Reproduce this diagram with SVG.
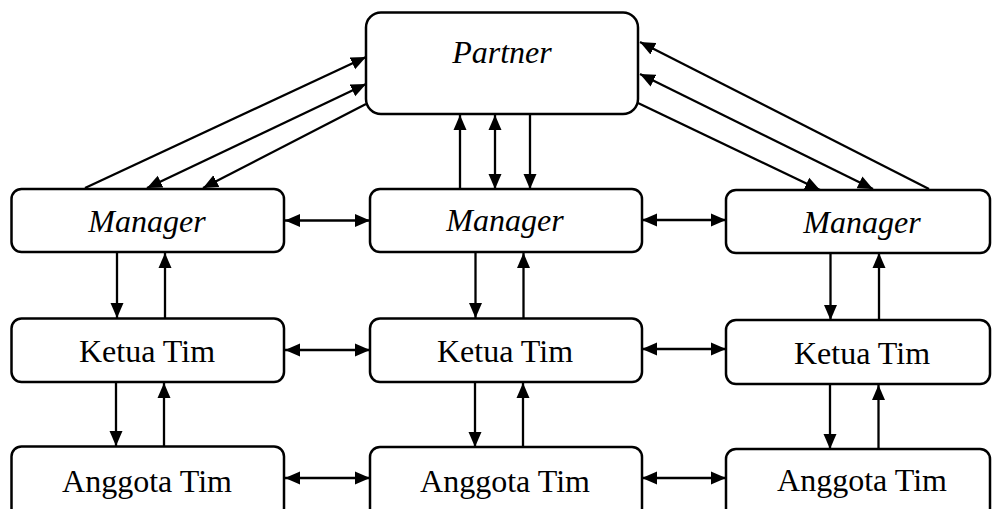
<svg xmlns="http://www.w3.org/2000/svg" width="992" height="509" viewBox="0 0 992 509">
<defs>
<style>
.box{fill:#fff;stroke:#000;stroke-width:2.5}
.lbl{font-family:"Liberation Serif","Times New Roman",serif;font-size:32px;fill:#000;text-anchor:middle}
.it{font-style:italic}
.c{stroke:#000;stroke-width:2.3;fill:none}
.e{marker-end:url(#ah)}
.b{marker-end:url(#ah);marker-start:url(#ah)}
</style>
<marker id="ah" markerUnits="userSpaceOnUse" markerWidth="16" markerHeight="14" refX="15" refY="7" orient="auto-start-reverse">
<path d="M0,0.5 L15,7 L0,13.5 z" fill="#000"/>
</marker>
</defs>
<rect width="992" height="509" fill="#fff"/>
<g id="connectors">
<line class="c e" x1="85" y1="188" x2="366" y2="57"/>
<line class="c b" x1="147" y1="188" x2="366" y2="84"/>
<line class="c e" x1="366" y1="104" x2="203" y2="188"/>
<line class="c e" x1="929" y1="189" x2="640" y2="42"/>
<line class="c b" x1="873" y1="189" x2="640" y2="74"/>
<line class="c e" x1="638" y1="103" x2="820" y2="190"/>
<line class="c e" x1="460" y1="189" x2="460" y2="115"/>
<line class="c b" x1="495" y1="115" x2="495" y2="189"/>
<line class="c e" x1="530" y1="115" x2="530" y2="189"/>
<line class="c b" x1="285" y1="220.5" x2="370" y2="220.5"/>
<line class="c b" x1="642" y1="220" x2="726" y2="220"/>
<line class="c b" x1="285" y1="350" x2="370" y2="350"/>
<line class="c b" x1="642" y1="349" x2="726" y2="349"/>
<line class="c b" x1="285" y1="478" x2="370" y2="478"/>
<line class="c b" x1="642" y1="478" x2="726" y2="478"/>
<line class="c e" x1="117" y1="253" x2="117" y2="318"/>
<line class="c e" x1="165" y1="318" x2="165" y2="253"/>
<line class="c e" x1="475.5" y1="253" x2="475.5" y2="318"/>
<line class="c e" x1="523.5" y1="318" x2="523.5" y2="253"/>
<line class="c e" x1="830.5" y1="253" x2="830.5" y2="320"/>
<line class="c e" x1="879" y1="320" x2="879" y2="253"/>
<line class="c e" x1="116" y1="383" x2="116" y2="446"/>
<line class="c e" x1="164" y1="446" x2="164" y2="383"/>
<line class="c e" x1="475" y1="383" x2="475" y2="447"/>
<line class="c e" x1="523" y1="447" x2="523" y2="383"/>
<line class="c e" x1="830" y1="385" x2="830" y2="449"/>
<line class="c e" x1="878.5" y1="449" x2="878.5" y2="385"/>
</g>
<g id="partner">
<rect class="box" x="366" y="12.5" width="272" height="101.5" rx="15"/>
<text class="lbl it" x="502" y="63">Partner</text>
</g>
<g id="manager1">
<rect class="box" x="11.5" y="189" width="272.5" height="63" rx="10"/>
<text class="lbl it" x="147" y="232">Manager</text>
</g>
<g id="manager2">
<rect class="box" x="370" y="189" width="272" height="63" rx="10"/>
<text class="lbl it" x="505" y="231">Manager</text>
</g>
<g id="manager3">
<rect class="box" x="726" y="190" width="264" height="63" rx="10"/>
<text class="lbl it" x="862" y="233">Manager</text>
</g>
<g id="ketua1">
<rect class="box" x="11.5" y="318.5" width="272.5" height="63.5" rx="10"/>
<text class="lbl" x="147" y="362">Ketua Tim</text>
</g>
<g id="ketua2">
<rect class="box" x="370" y="318.5" width="272" height="63.5" rx="10"/>
<text class="lbl" x="505" y="362">Ketua Tim</text>
</g>
<g id="ketua3">
<rect class="box" x="726" y="320" width="264" height="64" rx="10"/>
<text class="lbl" x="862" y="364">Ketua Tim</text>
</g>
<g id="anggota1">
<rect class="box" x="11.5" y="446.5" width="272.5" height="72" rx="10"/>
<text class="lbl" x="147" y="492">Anggota Tim</text>
</g>
<g id="anggota2">
<rect class="box" x="370" y="447" width="272" height="72" rx="10"/>
<text class="lbl" x="505" y="492">Anggota Tim</text>
</g>
<g id="anggota3">
<rect class="box" x="726" y="449" width="264" height="72" rx="10"/>
<text class="lbl" x="862" y="491">Anggota Tim</text>
</g>
</svg>
